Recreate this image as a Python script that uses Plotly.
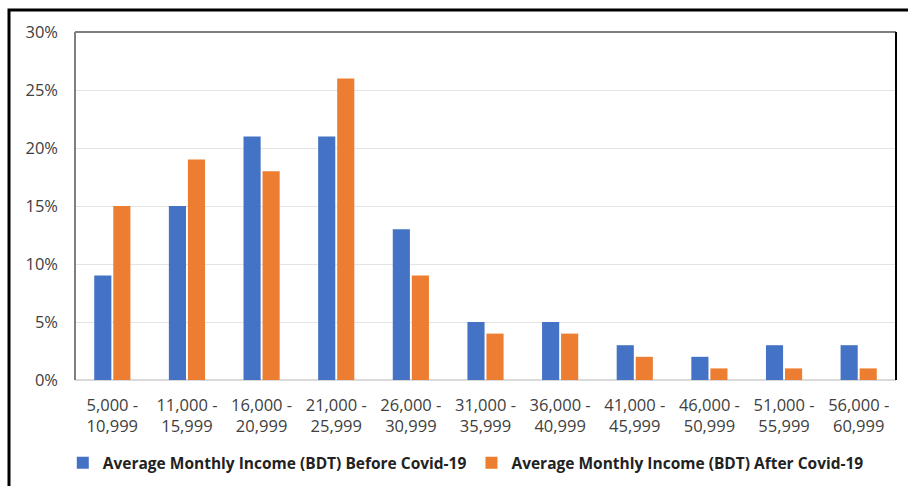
import plotly.graph_objects as go

categories = ["5,000 -<br>10,999", "11,000 -<br>15,999", "16,000 -<br>20,999", "21,000 -<br>25,999",
              "26,000 -<br>30,999", "31,000 -<br>35,999", "36,000 -<br>40,999", "41,000 -<br>45,999",
              "46,000 -<br>50,999", "51,000 -<br>55,999", "56,000 -<br>60,999"]
before_covid = [0.09, 0.15, 0.21, 0.21, 0.13, 0.05, 0.05, 0.03, 0.02, 0.03, 0.03]
after_covid = [0.15, 0.19, 0.18, 0.26, 0.09, 0.04, 0.04, 0.02, 0.01, 0.01, 0.01]
series_names = ["Average Monthly Income (BDT) Before Covid-19",
                "Average Monthly Income (BDT) After Covid-19"]
y_ticks = [0, 0.05, 0.10, 0.15, 0.20, 0.25, 0.30]

font_family = "Open Sans, Liberation Sans, sans-serif"

fig = go.Figure()
fig.add_trace(go.Bar(x=categories, y=before_covid, name=series_names[0],
                     marker=dict(color="#4472C4", line=dict(width=0))))
fig.add_trace(go.Bar(x=categories, y=after_covid, name=series_names[1],
                     marker=dict(color="#ED7D31", line=dict(width=0))))

L, R, T, B = 75, 12, 32, 106
W, H = 908, 486
pw, ph = W - L - R, H - T - B

fig.update_layout(
    width=W, height=H,
    margin=dict(l=L, r=R, t=T, b=B, autoexpand=False),
    paper_bgcolor="white", plot_bgcolor="white",
    barmode="group", bargap=0.49, bargroupgap=0.1,
    font=dict(family=font_family, size=16.5, color="#404040"),
    showlegend=True,
    legend=dict(orientation="h", x=0.476, xanchor="center", y=-0.19, yanchor="top",
                font=dict(family=font_family, size=15.5, color="#222222", weight="bold"),
                itemwidth=30, traceorder="normal", tracegroupgap=0),
    xaxis=dict(showgrid=False, showline=False, zeroline=False, ticks="", automargin=False,
               tickfont=dict(size=16.5, color="#404040"), ticklabelstandoff=13),
    yaxis=dict(range=[0, 0.30], tickvals=y_ticks, tickformat=".0%", automargin=False,
               showgrid=True, gridcolor="#E4E4E4", gridwidth=1,
               zeroline=True, zerolinecolor="#D9D9D9", zerolinewidth=2,
               showline=False, ticks="", ticklabelstandoff=16,
               tickfont=dict(size=16.5, color="#404040")),
)

# plot-area frame: gray top and left, black right edge
fig.add_shape(type="line", xref="paper", yref="paper", x0=0, x1=1, y0=1, y1=1,
              line=dict(color="#7F7F7F", width=2))
fig.add_shape(type="line", xref="paper", yref="paper", x0=0, x1=0, y0=0, y1=1,
              line=dict(color="#7F7F7F", width=2))
fig.add_shape(type="line", xref="paper", yref="paper", x0=1, x1=1, y0=0, y1=1,
              line=dict(color="#000000", width=2))

# outer figure border
fig.add_shape(type="rect", xref="paper", yref="paper",
              x0=(9 - L) / pw, x1=(W + 20 - L) / pw,
              y0=-(H + 20 - (H - B)) / ph, y1=((H - B) - 10) / ph,
              line=dict(color="#000000", width=3), layer="above")

fig.write_html("out.html")
